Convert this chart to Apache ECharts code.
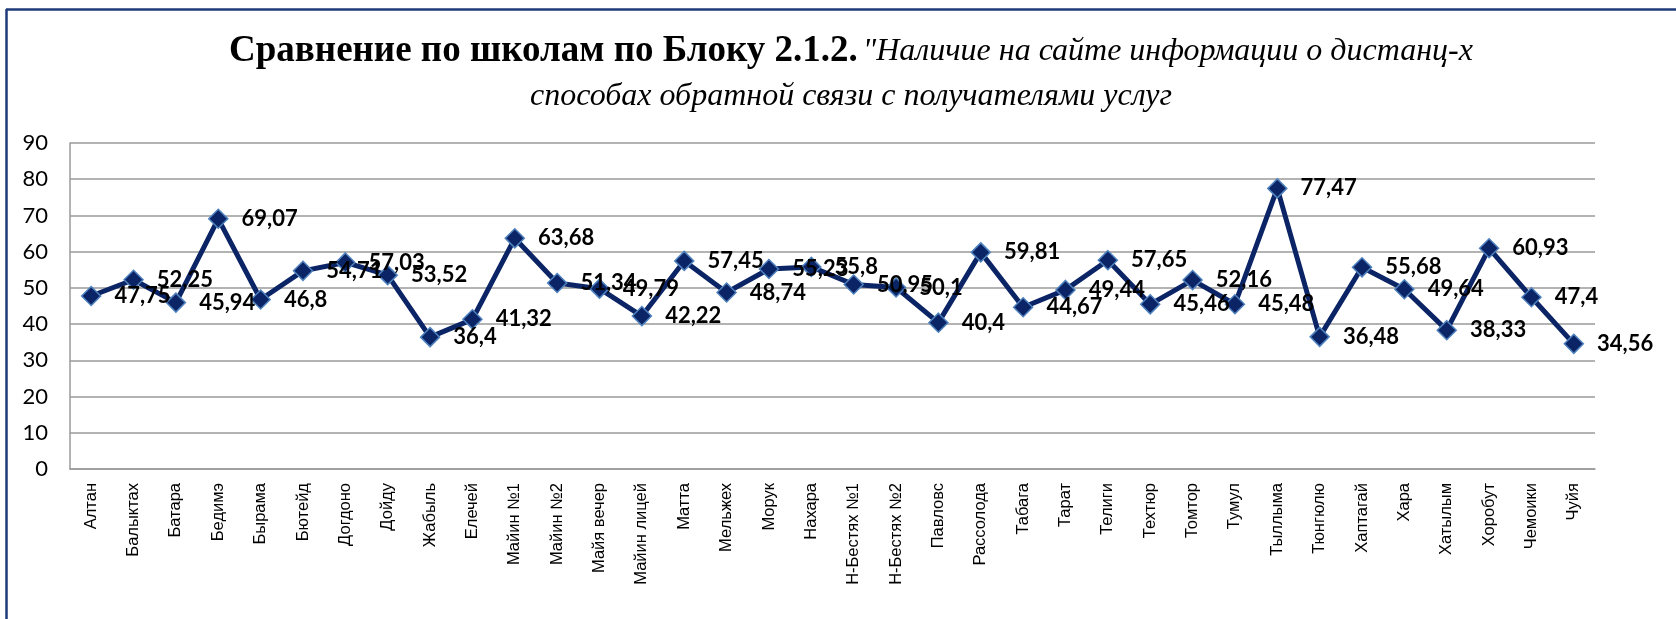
<!DOCTYPE html>
<html>
<head>
<meta charset="utf-8">
<script src="https://cdn.jsdelivr.net/npm/echarts@6/dist/echarts.min.js"></script>
<style>
  html, body { margin: 0; padding: 0; background: #fff; }
  #main { width: 1676px; height: 619px; }
</style>
</head>
<body>
<div id="main"></div>
<script>
// школы
const schools = [
  "Алтан", "Балыктах", "Батара", "Бедимэ", "Бырама", "Бютейд", "Догдоно", "Дойду",
  "Жабыль", "Елечей", "Майин №1", "Майин №2", "Майя вечер", "Майин лицей", "Матта",
  "Мельжех", "Морук", "Нахара", "Н-Бестях №1", "Н-Бестях №2", "Павловс", "Рассолода",
  "Табага", "Тарат", "Телиги", "Техтюр", "Томтор", "Тумул", "Тыллыма", "Тюнгюлю",
  "Хаптагай", "Хара", "Хатылым", "Хоробут", "Чемоики", "Чуйя"
];
// значения по блоку 2.1.2
const scores = [
  47.75, 52.25, 45.94, 69.07, 46.8, 54.71, 57.03, 53.52,
  36.4, 41.32, 63.68, 51.34, 49.79, 42.22, 57.45,
  48.74, 55.23, 55.8, 50.95, 50.1, 40.4, 59.81,
  44.67, 49.44, 57.65, 45.46, 52.16, 45.48, 77.47, 36.48,
  55.68, 49.64, 38.33, 60.93, 47.4, 34.56
];
const yTicks = [0, 10, 20, 30, 40, 50, 60, 70, 80, 90];

const chart = echarts.init(document.getElementById("main"));

const option = {
  animation: false,
  backgroundColor: "#fff",
  title: {
    left: 846,
    top: 24,
    textAlign: "center",
    text: "{b|Сравнение по школам по Блоку 2.1.2.} {i|\"Наличие на сайте информации о дистанц-х}\n{i|способах обратной связи с получателями услуг}",
    textStyle: {
      align: "center",
      rich: {
        b: { fontFamily: "Liberation Serif", fontWeight: "bold", fontSize: 37, color: "#000", lineHeight: 45 },
        i: { fontFamily: "Liberation Serif", fontStyle: "italic", fontWeight: "normal", fontSize: 32, color: "#000", lineHeight: 45 }
      }
    }
  },
  graphic: [
    { type: "line", shape: { x1: 6, y1: 9.5, x2: 1676, y2: 9.5 }, style: { stroke: "#1f3a7a", lineWidth: 2.5 } },
    { type: "line", shape: { x1: 6.5, y1: 9, x2: 6.5, y2: 619 }, style: { stroke: "#1f3a7a", lineWidth: 2.5 } }
  ],
  grid: { left: 70, right: 81, top: 143, bottom: 150 },
  xAxis: {
    type: "category",
    data: schools,
    boundaryGap: true,
    axisLine: { lineStyle: { color: "#9a9a9a", width: 1.5 } },
    axisTick: { show: false },
    axisLabel: {
      interval: 0,
      rotate: 90,
      margin: 14,
      fontFamily: "Liberation Sans",
      fontSize: 16.5,
      color: "#000"
    }
  },
  yAxis: {
    type: "value",
    min: yTicks[0],
    max: yTicks[yTicks.length - 1],
    interval: 10,
    axisLine: { show: true, lineStyle: { color: "#9a9a9a", width: 1.5 } },
    axisTick: { show: false },
    splitLine: { lineStyle: { color: "#9a9a9a", width: 1.5 } },
    axisLabel: {
      margin: 22,
      fontFamily: "Lato",
      fontSize: 22,
      color: "#000"
    }
  },
  series: [
    {
      name: "Блок 2.1.2",
      type: "line",
      data: scores,
      symbol: "diamond",
      symbolSize: 19,
      lineStyle: { color: "#0b2465", width: 5 },
      itemStyle: { color: "#0b2465", borderColor: "#4f81bd", borderWidth: 1.5 },
      label: {
        show: true,
        position: "right",
        distance: 13,
        fontFamily: "Lato",
        fontWeight: "bold",
        fontSize: 22,
        color: "#000",
        formatter: (p) => String(p.value).replace(".", ",")
      }
    }
  ]
};

chart.setOption(option);
</script>
</body>
</html>
